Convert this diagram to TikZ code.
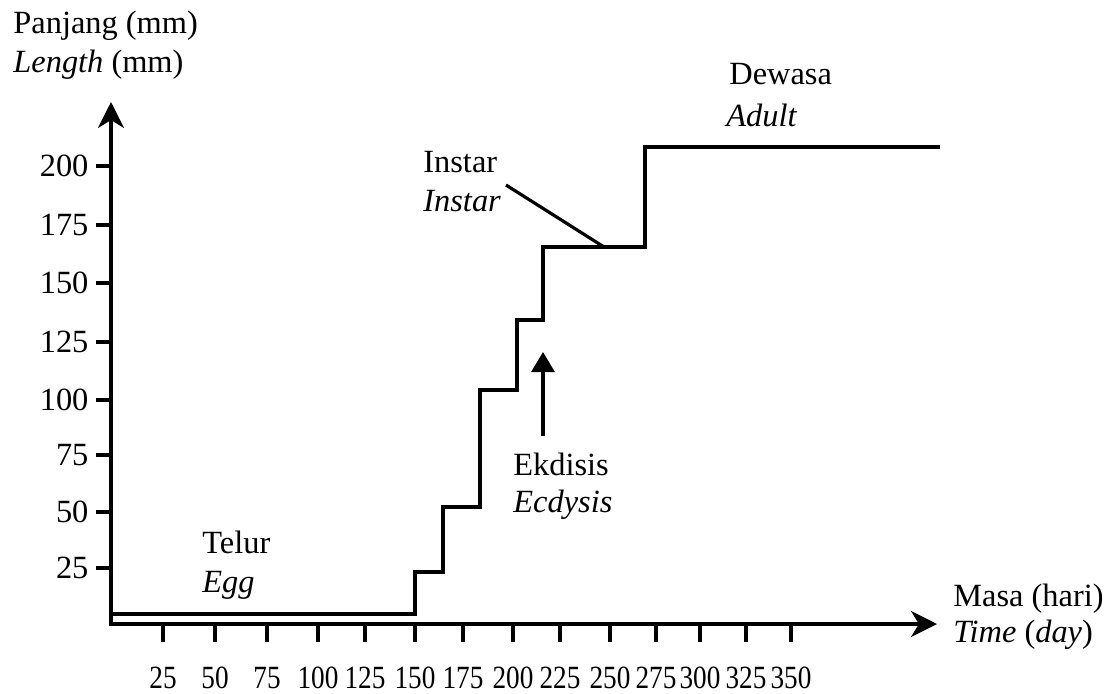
\documentclass[tikz,border=0pt]{standalone}
\usepackage{fontspec}
\setmainfont{Liberation Serif}
\newfontfamily\narrowdigits[FakeStretch=0.84]{Liberation Serif}
\usepackage{tikz}
\usetikzlibrary{arrows.meta}

\begin{document}
\begin{tikzpicture}[x=0.5pt,y=0.5pt,
  lbl/.style={anchor=base west,inner sep=0pt,font=\fontsize{16.2}{19}\selectfont},
  ylbl/.style={anchor=east,inner sep=0pt,xshift=-3pt,font=\fontsize{16.2}{19}\selectfont},
  xlbl/.style={anchor=base,inner sep=0pt,font=\narrowdigits\fontsize{16.2}{19}\selectfont},
  thickline/.style={line width=1.6pt,line join=miter}]
  \useasboundingbox (0,0) rectangle (1113,693);

  % Axes
  \coordinate (ytop) at (111,591);
  \coordinate (origin) at (111,69);
  \coordinate (xend) at (937,69);
  \draw[thickline,{Stealth[length=13pt,width=13pt,inset=4pt]}-{Stealth[length=13pt,width=13pt,inset=4pt]}]
    (ytop) -- (origin) -- (xend);

  % Length ticks
  \foreach \yy/\val in {527/200,468/175,410/150,351/125,293/100,238/75,181/50,125/25}
    \draw[thickline] (111,\yy) -- (96,\yy) node[ylbl] (y\val) {\val};

  % Time ticks
  \foreach \xx/\val in {163/25,215/50,267/75,318/100,365/125,415/150,463/175,
                        513/200,560/225,610/250,656/275,700/300,746/325,791/350}
  {
    \draw[thickline] (\xx,69) -- (\xx,51);
    \node[xlbl] (x\val) at (\xx,5) {\val};
  }

  % Growth steps
  \draw[thickline] (111,79) -- (415,79) -- (415,121) -- (443,121) -- (443,186)
    -- (480,186) -- (480,303) -- (517,303) -- (517,373) -- (543,373)
    -- (543,446) -- (645,446) -- (645,546) -- (940,546);

  % Axis titles
  \node[lbl] (panjang) at (13,660) {Panjang (mm)};
  \node[lbl] (length) at (13,621) {\textit{Length} (mm)};
  \node[lbl] (masa) at (953,87) {Masa (hari)};
  \node[lbl] (time) at (953,51) {\textit{Time} (\textit{day})};

  % Stage labels
  \node[lbl] (telur) at (202,140) {Telur};
  \node[lbl] (egg) at (202,101) {\textit{Egg}};
  \node[lbl] (instar) at (423,521) {Instar};
  \node[lbl] (instarit) at (423,482) {\textit{Instar}};
  \node[lbl] (ekdisis) at (513,218) {Ekdisis};
  \node[lbl] (ecdysis) at (513,181) {\textit{Ecdysis}};
  \node[lbl] (dewasa) at (729,609) {Dewasa};
  \node[lbl] (adult) at (726,567) {\textit{Adult}};

  % Pointers
  \coordinate (instarfrom) at (506,508);
  \coordinate (instarto) at (604,446);
  \draw[thickline] (instarfrom) -- (instarto);
  \coordinate (ekdfrom) at (543,257);
  \coordinate (ekdto) at (543,341);
  \draw[thickline,-{Triangle[length=10pt,width=11.5pt]}] (ekdfrom) -- (ekdto);

\end{tikzpicture}
\end{document}
